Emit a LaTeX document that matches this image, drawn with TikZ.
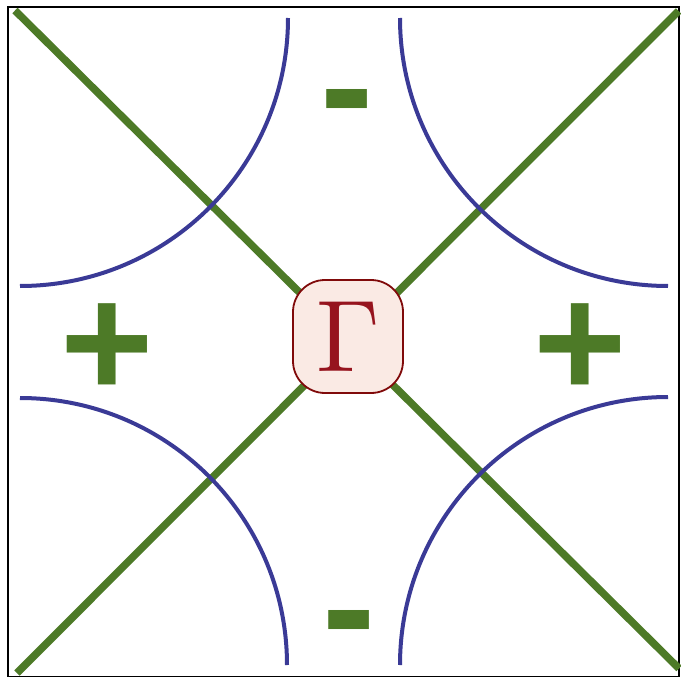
\documentclass[tikz,border=0pt]{standalone}
\usepackage{fontspec}
\newfontfamily\signfont{Liberation Sans}
\definecolor{lgreen}{RGB}{77,122,39}
\definecolor{lblue}{RGB}{58,58,150}
\definecolor{gred}{RGB}{150,20,30}
\definecolor{gborder}{RGB}{128,10,10}
\definecolor{gfill}{RGB}{250,234,228}
\tikzset{
  diag/.style={draw=lgreen, line width=7.5pt},
  arcline/.style={draw=lblue, line width=4pt},
  sign/.style={text=lgreen, inner sep=0pt, font=\signfont\bfseries\fontsize{160}{160}\selectfont},
  gammabox/.style={draw=gborder, fill=gfill, line width=1.8pt, rounded corners=32pt,
    minimum width=110pt, minimum height=113pt, inner sep=0pt, text=gred}
}
\begin{document}
\begin{tikzpicture}[x=1pt,y=-1pt]
\useasboundingbox (0,0) rectangle (681,677);
\draw[black, line width=2pt] (8,7) rectangle (679,676.5);
\coordinate (tl) at (15,10.5);
\coordinate (br) at (679,668.5);
\coordinate (tr) at (678.5,11);
\coordinate (bl) at (17,673);
\draw[diag] (tl) -- (br);
\draw[diag] (tr) -- (bl);
% arcs
\draw[arcline] (20,286) arc[start angle=90, end angle=0, radius=268];
\draw[arcline] (400,18) arc[start angle=180, end angle=90, radius=268];
\draw[arcline] (20,398) arc[start angle=270, end angle=360, radius=267];
\draw[arcline] (400,665) arc[start angle=180, end angle=270, radius=268];
\node[gammabox] (g) at (348,336.5) {\scalebox{10.2}{$\Gamma$}};
\node[sign] (pl) at (107,350.5) {+};
\node[sign] (pr) at (580,350.5) {+};
\node[sign, anchor=base] (mt) at (347,140.5) {-};
\node[sign, anchor=base] (mb) at (349,661) {-};
\end{tikzpicture}
\end{document}
